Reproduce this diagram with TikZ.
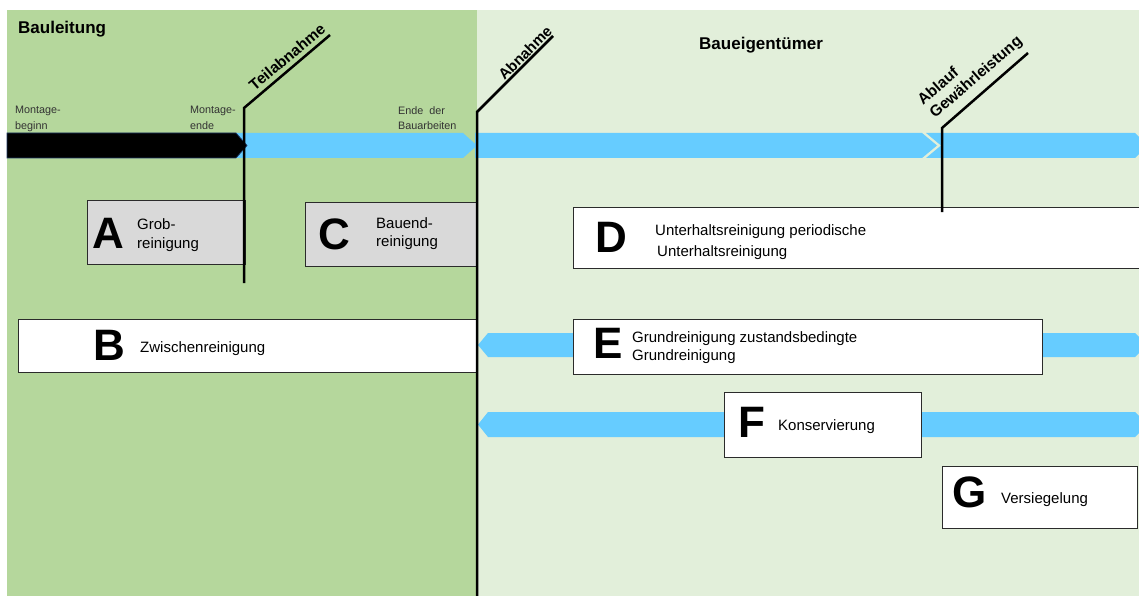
\documentclass[tikz,border=0pt]{standalone}
\usepackage{fontspec}
\setmainfont{Liberation Sans}
\definecolor{leftgreen}{HTML}{B5D79C}
\definecolor{rightgreen}{HTML}{E2EFDA}
\definecolor{barblue}{HTML}{66CCFF}
\definecolor{boxgray}{HTML}{D9D9D9}
\definecolor{edge}{HTML}{2B2B2B}
\definecolor{navy}{HTML}{1F3864}
\definecolor{labelgray}{HTML}{333333}
\begin{document}
\begin{tikzpicture}[x=1pt,y=-1pt,
  bar/.style={fill=barblue,draw=none},
  graybox/.style={draw=edge,line width=1.3pt,fill=boxgray,anchor=north west,inner sep=0pt},
  whitebox/.style={draw=edge,line width=1.3pt,fill=white,anchor=north west,inner sep=0pt},
  bigletter/.style={font=\fontsize{44}{44}\selectfont\bfseries,inner sep=0pt},
  boxtext/.style={align=left,anchor=west,inner sep=0pt},
  boxline/.style={font=\fontsize{15}{18}\selectfont,anchor=base west,inner sep=0pt},
  smalllabel/.style={font=\fontsize{10.8}{15.5}\selectfont,text=labelgray,align=left,anchor=west,inner sep=0pt},
  heading/.style={font=\fontsize{17}{20}\selectfont\bfseries,anchor=base west,inner sep=0pt},
  milestone/.style={font=\fontsize{15.5}{17}\selectfont\bfseries,inner sep=0pt},
  mline/.style={line width=2.5pt,draw=black,line join=miter}
]
\useasboundingbox (0,0) rectangle (1139,596);
\fill[white] (0,0) rectangle (1139,596);
\fill[leftgreen] (7,10) rectangle (477,596);
\fill[rightgreen] (477,10) rectangle (1139,596);

% main timeline
\fill[bar] (236,133) -- (463,133) -- (477,145.5) -- (463,158) -- (236,158) -- cycle;
\filldraw[fill=black,draw=navy,line width=0.7pt] (7,133) -- (236,133) -- (247,145.5) -- (236,158) -- (7,158) -- cycle;
\fill[bar] (475,133) -- (922,133) -- (937,145.5) -- (922,158) -- (475,158) -- cycle;
\fill[bar] (926,133) -- (1135,133) -- (1139,137) -- (1139,154) -- (1135,158) -- (926,158) -- (941,145.5) -- cycle;

% E row bars
\fill[bar] (574,333) -- (488,333) -- (478,345) -- (488,357) -- (574,357) -- cycle;
\fill[bar] (1041,333) -- (1135,333) -- (1139,337) -- (1139,353) -- (1135,357) -- (1041,357) -- cycle;
% F row bars
\fill[bar] (725,412) -- (488,412) -- (478,424.5) -- (488,437) -- (725,437) -- cycle;
\fill[bar] (920,412) -- (1135,412) -- (1139,416) -- (1139,433) -- (1135,437) -- (920,437) -- cycle;

% boxes
\node[graybox,minimum width=158pt,minimum height=64pt] (boxA) at (87,200) {};
\node[graybox,minimum width=172pt,minimum height=64pt] (boxC) at (305,202) {};
\node[whitebox,minimum width=459pt,minimum height=53pt] (boxB) at (18,319) {};
\node[whitebox,minimum width=572pt,minimum height=61pt] (boxD) at (573,207) {};
\node[whitebox,minimum width=469pt,minimum height=55pt] (boxE) at (573,319) {};
\node[whitebox,minimum width=197pt,minimum height=65pt] (boxF) at (724,392) {};
\node[whitebox,minimum width=195pt,minimum height=62pt] (boxG) at (942,466) {};

% milestone lines
\coordinate (teilTop) at (330,35);
\coordinate (teilKnee) at (244,108);
\coordinate (teilBot) at (244,283);
\coordinate (abnTop) at (553,36);
\coordinate (abnKnee) at (477,112);
\coordinate (abnBot) at (477,597);
\coordinate (gewTop) at (1028,53);
\coordinate (gewKnee) at (942,128);
\coordinate (gewBot) at (942,212);
\draw[mline] (teilTop) -- (teilKnee) -- (teilBot);
\draw[mline] (abnTop) -- (abnKnee) -- (abnBot);
\draw[mline] (gewTop) -- (gewKnee) -- (gewBot);

% headings
\node[heading] (hBau) at (18,34) {Bauleitung};
\node[heading] (hEig) at (699,50) {Baueigentümer};

% milestone labels
\node[milestone,rotate=40] (lTeil) at (287,57) {Teilabnahme};
\node[milestone,rotate=45,font=\fontsize{15}{17}\selectfont\bfseries] (lAbn) at (525,53) {Abnahme};
\node[milestone,rotate=41,anchor=base west] (lAbl) at (923,106) {Ablauf};
\node[milestone,rotate=41,anchor=base west] (lGew) at (935,119) {Gewährleistung};

% timeline labels
\node[smalllabel] (mBeg) at (15,119) {Montage-\\beginn};
\node[smalllabel] (mEnd) at (190,118) {Montage-\\ende};
\node[smalllabel] (eBau) at (398,118) {Ende\ \ der\\Bauarbeiten};

% letters
\node[bigletter] (letA) at (108,233) {A};
\node[bigletter] (letC) at (334,234) {C};
\node[bigletter] (letB) at (109,345) {B};
\node[bigletter] (letD) at (611,237) {D};
\node[bigletter] (letE) at (608,343) {E};
\node[bigletter] (letF) at (752,422) {F};
\node[bigletter] (letG) at (970,492) {G};

% box texts
\node[boxtext,font=\fontsize{15}{19}\selectfont] (tA) at (137,235) {Grob-\\reinigung};
\node[boxtext,font=\fontsize{15}{18}\selectfont] (tC) at (376,234) {Bauend-\\reinigung};
\node[boxline] (tB) at (140,352) {Zwischenreinigung};
\node[boxtext,font=\fontsize{15}{21}\selectfont] (tD) at (655,242) {Unterhaltsreinigung periodische\\\hspace{2pt}Unterhaltsreinigung};
\node[boxtext,font=\fontsize{15}{18}\selectfont] (tE) at (632,348) {Grundreinigung zustandsbedingte\\Grundreinigung};
\node[boxline] (tF) at (778,430) {Konservierung};
\node[boxline] (tG) at (1001,503) {Versiegelung};
\end{tikzpicture}
\end{document}
